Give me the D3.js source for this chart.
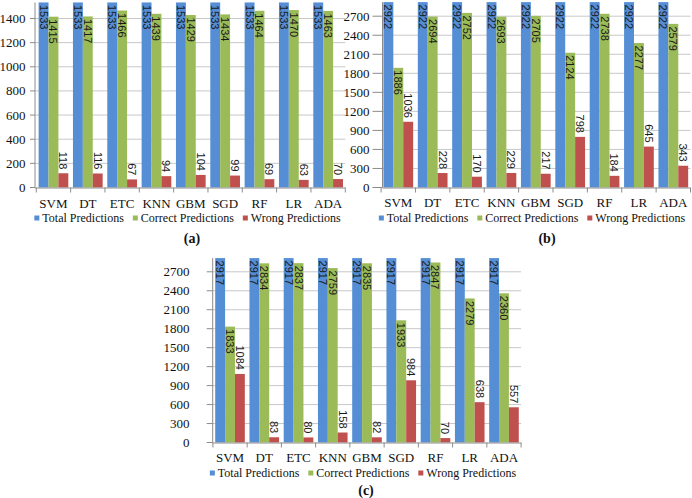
<!DOCTYPE html>
<html>
<head>
<meta charset="utf-8">
<script src="https://cdn.jsdelivr.net/npm/d3@7"></script>
<style>
  html, body { margin: 0; padding: 0; background: #fff; }
  svg { display: block; }
  .serif { font-family: "Liberation Serif", "Times New Roman", Times, serif; }
  .sans { font-family: "Liberation Sans", Arial, sans-serif; }
</style>
</head>
<body>
<svg id="chart" width="692" height="498"></svg>
<script>
// ---------- data ----------
const categories = ["SVM", "DT", "ETC", "KNN", "GBM", "SGD", "RF", "LR", "ADA"];
const seriesNames = ["Total Predictions", "Correct Predictions", "Wrong Predictions"];

const totalA   = [1533, 1533, 1533, 1533, 1533, 1533, 1533, 1533, 1533];
const correctA = [1415, 1417, 1466, 1439, 1429, 1434, 1464, 1470, 1463];
const wrongA   = [118, 116, 67, 94, 104, 99, 69, 63, 70];
const ticksA   = [0, 200, 400, 600, 800, 1000, 1200, 1400];

const totalB   = [2922, 2922, 2922, 2922, 2922, 2922, 2922, 2922, 2922];
const correctB = [1886, 2694, 2752, 2693, 2705, 2124, 2738, 2277, 2579];
const wrongB   = [1036, 228, 170, 229, 217, 798, 184, 645, 343];
const ticksB   = [0, 300, 600, 900, 1200, 1500, 1800, 2100, 2400, 2700];

const totalC   = [2917, 2917, 2917, 2917, 2917, 2917, 2917, 2917, 2917];
const correctC = [1833, 2834, 2837, 2759, 2835, 1933, 2847, 2279, 2360];
const wrongC   = [1084, 83, 80, 158, 82, 984, 70, 638, 557];
const ticksC   = [0, 300, 600, 900, 1200, 1500, 1800, 2100, 2400, 2700];

const panelLabels = ["(a)", "(b)", "(c)"];

// ---------- styles / layout ----------
const colors = ["#558ED5", "#9BBB59", "#C0504D"];

const panels = [
  { series: [totalA, correctA, wrongA], ticks: ticksA,
    x0: 36.3, x1: 345.3, axisX: 35, y0: 187.5, yTop: 18.5, tickLen: 5, labelRight: 25.5,
    catY: 203, legY: 218, legCX: 187.5, lab: panelLabels[0], labX: 192, labY: 238 },
  { series: [totalB, correctB, wrongB], ticks: ticksB,
    x0: 381.1, x1: 690.5, axisX: 382.5, y0: 187.5, yTop: 16.2, tickLen: 10, labelRight: 369.5,
    catY: 202, legY: 218, legCX: 532, lab: panelLabels[1], labX: 547, labY: 238 },
  { series: [totalC, correctC, wrongC], ticks: ticksC,
    x0: 212.9, x1: 521.1, axisX: 212.7, y0: 442.5, yTop: 271.8, tickLen: 6, labelRight: 189.5,
    catY: 457, legY: 473, legCX: 363, lab: panelLabels[2], labX: 366, labY: 490 }
];

const svg = d3.select("#chart");

panels.forEach(p => {
  const g = svg.append("g");
  const maxTick = p.ticks[p.ticks.length - 1];
  const y = d3.scaleLinear().domain([0, maxTick]).range([p.y0, p.yTop]);
  const x = d3.scaleBand().domain(categories).range([p.x0, p.x1]).paddingInner(0).paddingOuter(0);
  const xs = d3.scaleBand().domain(seriesNames).range([0, x.bandwidth()]).paddingInner(0).paddingOuter(0.235);

  // gridlines
  g.selectAll("line.grid").data(p.ticks.filter(t => t > 0)).enter().append("line")
    .attr("x1", p.axisX).attr("x2", p.x1)
    .attr("y1", d => y(d)).attr("y2", d => y(d))
    .attr("stroke", "#C8C8C8").attr("stroke-width", 1);

  // y tick marks and labels
  g.selectAll("line.yt").data(p.ticks).enter().append("line")
    .attr("x1", p.axisX - p.tickLen).attr("x2", p.axisX)
    .attr("y1", d => y(d)).attr("y2", d => y(d))
    .attr("stroke", "#8C8C8C").attr("stroke-width", 1);
  g.selectAll("text.yl").data(p.ticks).enter().append("text")
    .attr("class", "serif")
    .attr("x", p.labelRight).attr("y", d => y(d))
    .attr("text-anchor", "end").attr("dominant-baseline", "central")
    .attr("font-size", 13).attr("fill", "#111")
    .text(d => d);

  // bars
  const allMax = d3.max(p.series.flat());
  p.series.forEach((vals, si) => {
    g.selectAll(null).data(vals).enter().append("rect")
      .attr("x", (d, i) => x(categories[i]) + xs(seriesNames[si]))
      .attr("width", xs.bandwidth())
      .attr("y", d => y(d))
      .attr("height", d => y(0) - y(d))
      .attr("fill", colors[si]);
  });

  // axes lines
  g.append("line").attr("x1", p.axisX).attr("x2", p.axisX)
    .attr("y1", p.y0).attr("y2", y(allMax))
    .attr("stroke", "#8C8C8C").attr("stroke-width", 1);
  g.append("line").attr("x1", p.axisX).attr("x2", p.x1)
    .attr("y1", p.y0 + 0.5).attr("y2", p.y0 + 0.5)
    .attr("stroke", "#8C8C8C").attr("stroke-width", 1);
  const bounds = categories.map(c => x(c)).concat([p.x1]);
  g.selectAll(null).data(bounds).enter().append("line")
    .attr("x1", d => d).attr("x2", d => d)
    .attr("y1", p.y0).attr("y2", p.y0 + 5)
    .attr("stroke", "#8C8C8C").attr("stroke-width", 1);

  // data labels
  p.series.forEach((vals, si) => {
    g.selectAll(null).data(vals).enter().append("text")
      .attr("class", "sans")
      .attr("transform", (d, i) => {
        const cx = x(categories[i]) + xs(seriesNames[si]) + xs.bandwidth() / 2;
        const yy = si < 2 ? y(d) + 2.5 : y(d) - 4;
        return `translate(${cx},${yy}) rotate(90)`;
      })
      .attr("text-anchor", si < 2 ? "start" : "end")
      .attr("dominant-baseline", "central")
      .attr("font-size", 11).attr("fill", "#1a1a1a")
      .text(d => d);
  });

  // category labels
  g.selectAll(null).data(categories).enter().append("text")
    .attr("class", "serif")
    .attr("x", d => x(d) + x.bandwidth() / 2).attr("y", p.catY)
    .attr("text-anchor", "middle").attr("dominant-baseline", "central")
    .attr("font-size", 13).attr("fill", "#111")
    .text(d => d);

  // legend
  const leg = g.append("g");
  const items = seriesNames.map((s, i) => {
    const it = leg.append("g");
    it.append("rect").attr("width", 5).attr("height", 5).attr("y", -2.5).attr("fill", colors[i]);
    const t = it.append("text").attr("class", "serif")
      .attr("x", 8).attr("y", 0).attr("dominant-baseline", "central")
      .attr("font-size", 12).attr("fill", "#111").text(s);
    return { it, w: 8 + t.node().getComputedTextLength() };
  });
  const gap = 9;
  const totalW = d3.sum(items, d => d.w) + gap * (items.length - 1);
  let cx = p.legCX - totalW / 2;
  items.forEach(d => { d.it.attr("transform", `translate(${cx},${p.legY})`); cx += d.w + gap; });

  // panel label
  svg.append("text").attr("class", "serif")
    .attr("x", p.labX).attr("y", p.labY)
    .attr("text-anchor", "middle").attr("dominant-baseline", "central")
    .attr("font-size", 14).attr("font-weight", "bold").attr("fill", "#111")
    .text(p.lab);
});
</script>
</body>
</html>
